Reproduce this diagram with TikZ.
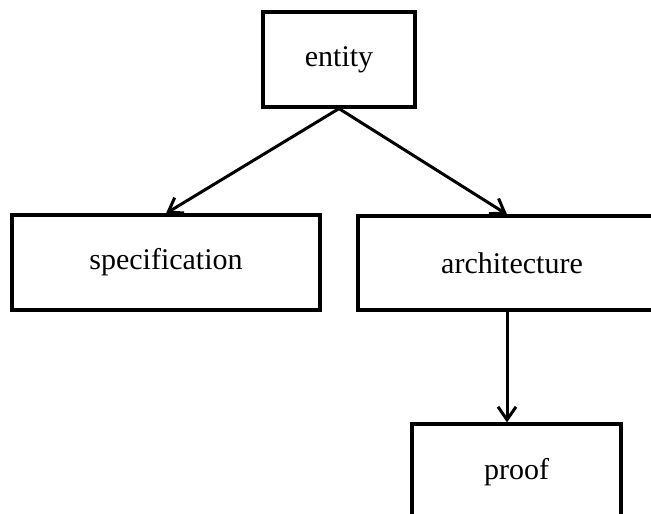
\documentclass[tikz,border=0pt]{standalone}
\usepackage{fontspec}
\setmainfont{Liberation Serif}
\usetikzlibrary{arrows.meta}
\tikzset{
  unitbox/.style={draw, line width=3.2pt, inner sep=0pt, font=\fontsize{30}{36}\selectfont},
  link/.style={line width=3pt, -{Straight Barb[length=13pt,width=18pt,line width=3pt]}}
}
\begin{document}
\begin{tikzpicture}[x=1pt, y=-1pt]
            \useasboundingbox (0,0) rectangle (651,514);
            \node[unitbox, minimum width=152pt, minimum height=95pt] (entity) at (339,59.5) {entity};
            \node[unitbox, minimum width=308pt, minimum height=95pt] (spec) at (166,262.5) {specification};
            \node[unitbox, minimum width=308pt, minimum height=94pt] (arch) at (512,263) {architecture};
            \node[unitbox, minimum width=209pt, minimum height=96pt] (proof) at (516.5,472) {proof};
            \coordinate (down) at ([xshift=-5pt]arch.south);
            \draw [link] (entity.south) -- (spec.north);
            \draw [link] (entity.south) -- ([xshift=-5pt]arch.north);
            \draw [link] (down) -- (down |- proof.north);
\end{tikzpicture}
\end{document}
